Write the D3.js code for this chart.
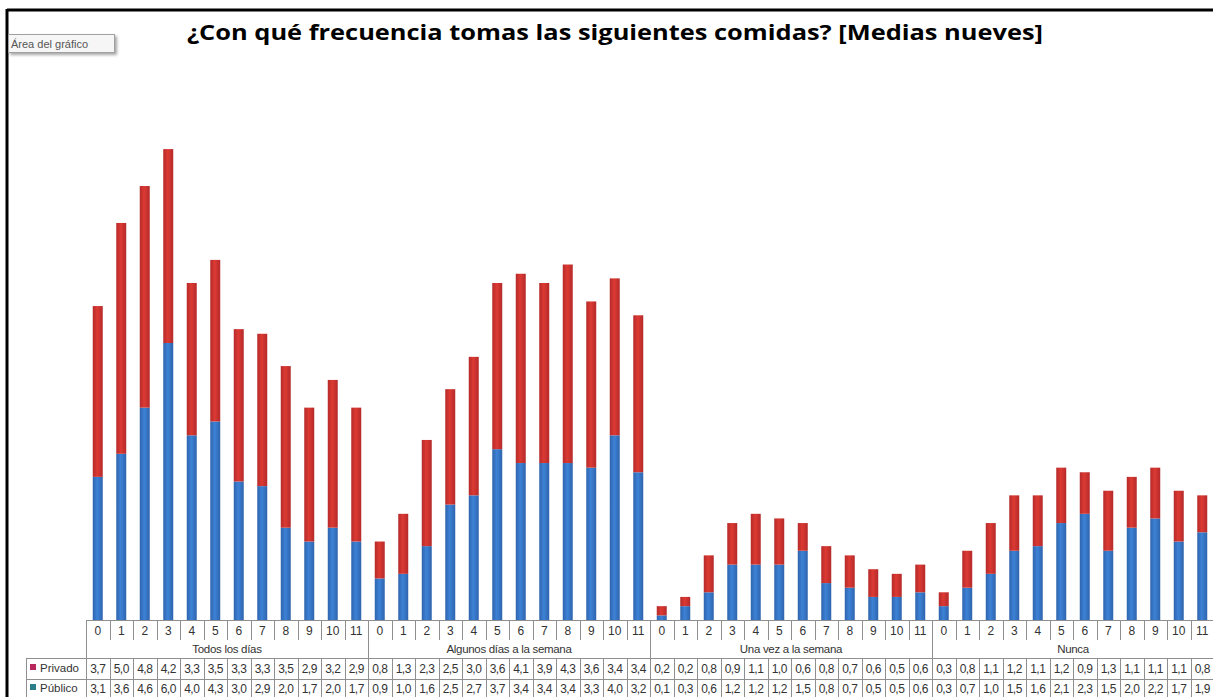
<!DOCTYPE html>
<html>
<head>
<meta charset="utf-8">
<script src="https://cdn.jsdelivr.net/npm/d3@7"></script>
<style>
  html, body { margin: 0; padding: 0; background: #ffffff; }
  svg { display: block; }
</style>
</head>
<body>
<svg id="chart" width="1213" height="697"></svg>
<script>
// ---- data ----
const title = "¿Con qué frecuencia tomas las siguientes comidas? [Medias nueves]";
const groups = ["Todos los días", "Algunos días a la semana", "Una vez a la semana", "Nunca"];
const categories = ["0","1","2","3","4","5","6","7","8","9","10","11"];
const seriesNames = ["Privado", "Público"];
const privado = [
  [3.7,5.0,4.8,4.2,3.3,3.5,3.3,3.3,3.5,2.9,3.2,2.9],
  [0.8,1.3,2.3,2.5,3.0,3.6,4.1,3.9,4.3,3.6,3.4,3.4],
  [0.2,0.2,0.8,0.9,1.1,1.0,0.6,0.8,0.7,0.6,0.5,0.6],
  [0.3,0.8,1.1,1.2,1.1,1.2,0.9,1.3,1.1,1.1,1.1,0.8]
];
const publico = [
  [3.1,3.6,4.6,6.0,4.0,4.3,3.0,2.9,2.0,1.7,2.0,1.7],
  [0.9,1.0,1.6,2.5,2.7,3.7,3.4,3.4,3.4,3.3,4.0,3.2],
  [0.1,0.3,0.6,1.2,1.2,1.2,1.5,0.8,0.7,0.5,0.5,0.6],
  [0.3,0.7,1.0,1.5,1.6,2.1,2.3,1.5,2.0,2.2,1.7,1.9]
];
const yMax = 12;

(function () {
const rows = [];
groups.forEach((g, gi) => {
  categories.forEach((c, ci) => {
    rows.push({ key: gi + "-" + ci, group: g, gi, cat: c, Público: publico[gi][ci], Privado: privado[gi][ci] });
  });
});

const svg = d3.select("#chart");
const W = 1213, H = 697;
const pLeft = 86, pRight = 1214, pBottom = 620, pTop = 66;

const x = d3.scaleBand().domain(rows.map(r => r.key)).range([pLeft, pRight]).paddingInner(0.575).paddingOuter(0.2875);
const y = d3.scaleLinear().domain([0, yMax]).range([pBottom, pTop]);
const fmt = v => d3.format(".1f")(v).replace(".", ",");
const step = x.step();

const defs = svg.append("defs");
function grad(id, edge, mid) {
  const lg = defs.append("linearGradient").attr("id", id).attr("x1", "0").attr("x2", "1").attr("y1", "0").attr("y2", "0");
  lg.append("stop").attr("offset", "0%").attr("stop-color", edge);
  lg.append("stop").attr("offset", "45%").attr("stop-color", mid);
  lg.append("stop").attr("offset", "100%").attr("stop-color", edge);
}
grad("gPub", "#2e64ad", "#3d82d6");
grad("gPri", "#b52a2a", "#dc3a33");
const sh = defs.append("filter").attr("id", "shadow").attr("x", "-10%").attr("y", "-30%").attr("width", "130%").attr("height", "180%");
sh.append("feDropShadow").attr("dx", 2).attr("dy", 2).attr("stdDeviation", 1.5).attr("flood-color", "#000").attr("flood-opacity", 0.35);

// frame
svg.append("line").attr("x1", 7).attr("x2", W).attr("y1", 10).attr("y2", 10).attr("stroke", "#000").attr("stroke-width", 3);
svg.append("line").attr("x1", 7).attr("x2", 7).attr("y1", 9).attr("y2", H).attr("stroke", "#000").attr("stroke-width", 3);

// "Área del gráfico" tooltip
svg.append("rect").attr("x", 8.5).attr("y", 34.5).attr("width", 106).attr("height", 18).attr("fill", "#f6f6f6").attr("stroke", "#a0a0a0").attr("filter", "url(#shadow)");
svg.append("text").attr("x", 11).attr("y", 47.5).attr("font-family", "Liberation Sans, Arial, sans-serif").attr("font-size", 11).attr("fill", "#555").text("Área del gráfico");

// title
svg.append("text").attr("x", 187).attr("y", 40).attr("font-family", "Open Sans, sans-serif").attr("font-weight", "bold")
  .attr("font-size", 22).attr("fill", "#000").attr("textLength", 856).attr("lengthAdjust", "spacingAndGlyphs").text(title);

// stacked bars
const stack = d3.stack().keys(["Público", "Privado"]);
const stacked = stack(rows);
const fills = { "Público": "url(#gPub)", "Privado": "url(#gPri)" };
svg.append("g").selectAll("g").data(stacked).join("g").attr("fill", d => fills[d.key])
  .selectAll("rect").data(d => d).join("rect")
  .attr("x", d => x(d.data.key))
  .attr("width", x.bandwidth())
  .attr("y", d => y(d[1]))
  .attr("height", d => y(d[0]) - y(d[1]));

// ---- data table ----
const lineCol = "#8f8f8f";
const tbl = svg.append("g").attr("font-family", "Liberation Sans, Arial, sans-serif").attr("fill", "#333");
const rowTop = pBottom, catRowBottom = 640, groupRowBottom = 658, priRowBottom = 679;
const legendLeft = 26;

const lines = svg.append("g").attr("stroke", lineCol).attr("stroke-width", 1).attr("shape-rendering", "crispEdges");
lines.append("line").attr("x1", pLeft).attr("x2", W).attr("y1", rowTop + 0.5).attr("y2", rowTop + 0.5);
lines.append("line").attr("x1", legendLeft).attr("x2", W).attr("y1", groupRowBottom + 0.5).attr("y2", groupRowBottom + 0.5);
lines.append("line").attr("x1", legendLeft).attr("x2", W).attr("y1", priRowBottom + 0.5).attr("y2", priRowBottom + 0.5);
lines.append("line").attr("x1", legendLeft + 0.5).attr("x2", legendLeft + 0.5).attr("y1", groupRowBottom).attr("y2", H);

rows.forEach((r, i) => {
  const xl = Math.round(x(r.key) - (step - x.bandwidth()) / 2) + 0.5;
  const isGroupStart = (i % categories.length) === 0;
  lines.append("line").attr("x1", xl).attr("x2", xl).attr("y1", rowTop).attr("y2", isGroupStart ? H : catRowBottom);
  if (!isGroupStart) {
    lines.append("line").attr("x1", xl).attr("x2", xl).attr("y1", groupRowBottom).attr("y2", H);
  }
});

tbl.selectAll("text.cat").data(rows).join("text").attr("class", "cat")
  .attr("x", d => x(d.key) + x.bandwidth() / 2).attr("y", 635)
  .attr("text-anchor", "middle").attr("font-size", 12).text(d => d.cat);

groups.forEach((g, gi) => {
  const k0 = gi + "-0", k1 = gi + "-" + (categories.length - 1);
  const cx = (x(k0) + x(k1) + x.bandwidth()) / 2;
  tbl.append("text").attr("x", cx).attr("y", 653).attr("text-anchor", "middle").attr("font-size", 11.5).attr("letter-spacing", -0.3).text(g);
});

tbl.selectAll("text.pri").data(rows).join("text").attr("class", "pri")
  .attr("x", d => x(d.key) + x.bandwidth() / 2).attr("y", 673)
  .attr("text-anchor", "middle").attr("font-size", 12).attr("letter-spacing", -0.5).text(d => fmt(d.Privado));
tbl.selectAll("text.pub").data(rows).join("text").attr("class", "pub")
  .attr("x", d => x(d.key) + x.bandwidth() / 2).attr("y", 693)
  .attr("text-anchor", "middle").attr("font-size", 12).attr("letter-spacing", -0.5).text(d => fmt(d.Público));

const keyCols = { "Privado": "#b8285c", "Público": "#2c7d8c" };
[["Privado", 668], ["Público", 688]].forEach(([n, yy]) => {
  svg.append("rect").attr("x", 30).attr("y", yy - 4).attr("width", 6).attr("height", 6).attr("fill", keyCols[n]);
  tbl.append("text").attr("x", 40).attr("y", yy + 4).attr("font-size", 11.5).text(n);
});
})();
</script>
</body>
</html>
